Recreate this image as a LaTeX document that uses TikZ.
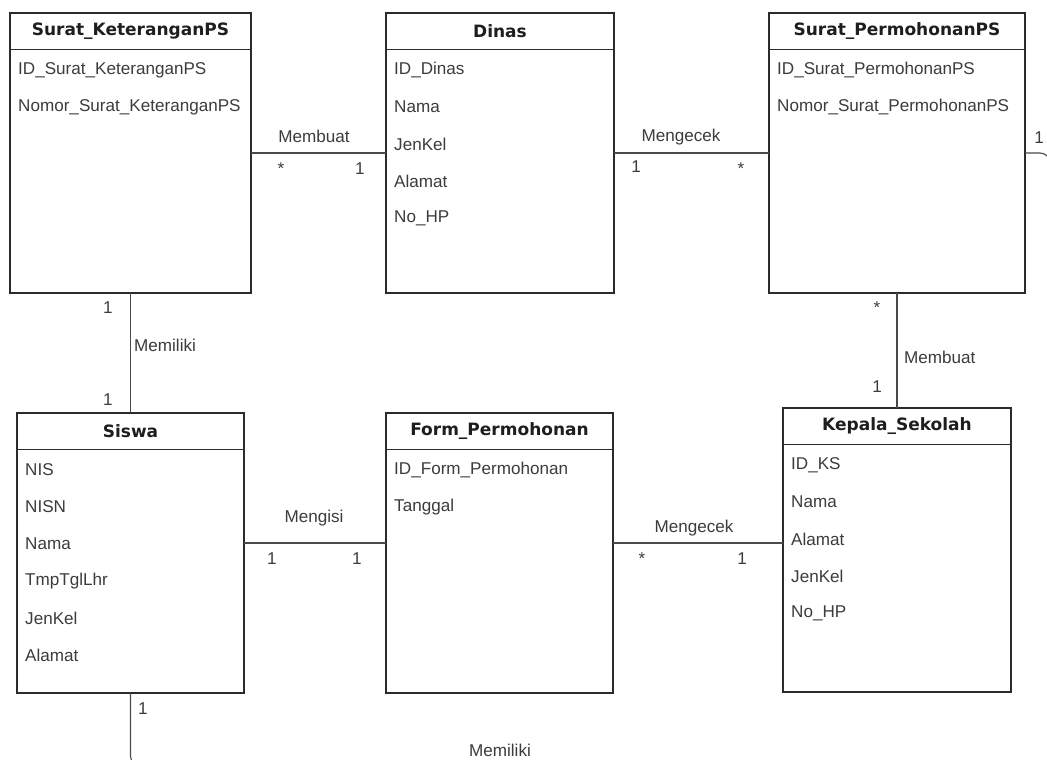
\documentclass[tikz,border=0pt]{standalone}
\usepackage{fontspec}
\setmainfont{Liberation Sans}
\newfontfamily\ttlfont{DejaVu Sans}
\definecolor{boxc}{HTML}{2B2B2B}
\definecolor{linec}{HTML}{4A4A4A}
\definecolor{titlec}{HTML}{1E1E1E}
\definecolor{txtc}{HTML}{3C3C3C}
\tikzset{
  erbox/.style={draw=boxc, line width=1.3pt, inner sep=0pt, outer sep=0pt, anchor=north west},
  sepline/.style={draw=boxc, line width=1.3pt},
  ttl/.style={font=\ttlfont\bfseries\fontsize{17}{20}\selectfont, text=titlec, inner sep=0pt},
  attr/.style={font=\fontsize{17.1}{21}\selectfont, text=txtc, inner sep=0pt, anchor=west},
  lbl/.style={font=\fontsize{17.1}{21}\selectfont, text=txtc, inner sep=0pt, anchor=base},
  lblw/.style={lbl, anchor=base west},
  conn/.style={draw=linec, line width=1.1pt}
}
% entity box: name, x, y, width, height, title, attributes
\newcommand{\erentity}[7]{%
  \node[erbox, minimum width=#4pt, minimum height=#5pt] (#1) at (#2,#3) {};
  \draw[sepline] ([yshift=-36.5pt]#1.north west) -- ([yshift=-36.5pt]#1.north east);
  \node[ttl] (#1-title) at ([yshift=-18pt]#1.north) {#6};
  \foreach \a [count=\i] in {#7} {
    \node[attr] (#1-\i) at ([xshift=8pt, yshift={-(57+37*(\i-1))*1pt}]#1.north west) {\a};
  }
}
\begin{document}
\begin{tikzpicture}[x=1pt, y=-1pt]
\useasboundingbox[fill=white] (0,0) rectangle (1047,760);

% entities
\erentity{sk}{10}{13}{241}{280}{Surat\_KeteranganPS}{ID\_Surat\_KeteranganPS, Nomor\_Surat\_KeteranganPS}
\erentity{dinas}{386}{13}{228}{280}{Dinas}{ID\_Dinas, Nama, JenKel, Alamat, No\_HP}
\erentity{sp}{769}{13}{256}{280}{Surat\_PermohonanPS}{ID\_Surat\_PermohonanPS, Nomor\_Surat\_PermohonanPS}
\erentity{siswa}{17}{413}{227}{280}{Siswa}{NIS, NISN, Nama, TmpTglLhr, JenKel, Alamat}
\erentity{form}{386}{413}{227}{280}{Form\_Permohonan}{ID\_Form\_Permohonan, Tanggal}
\erentity{ks}{783}{408}{228}{284}{Kepala\_Sekolah}{ID\_KS, Nama, Alamat, JenKel, No\_HP}

% relationships
\draw[conn] (sk.east) -- (dinas.west);
\node[lbl] (r1) at (314,142) {Membuat};
\node[lbl] (r1a) at (281,174) {*};
\node[lbl] (r1b) at (360,174) {1};

\draw[conn] (dinas.east) -- (sp.west);
\node[lbl] (r2) at (681,141) {Mengecek};
\node[lbl] (r2a) at (636,172) {1};
\node[lbl] (r2b) at (741,174) {*};

\draw[conn] (sk.south) -- (siswa.north);
\node[lbl] (r3a) at (108,313) {1};
\node[lblw] (r3) at (134,351) {Memiliki};
\node[lbl] (r3b) at (108,405) {1};

\draw[conn] (sp.south) -- (ks.north);
\node[lbl] (r4a) at (877,313) {*};
\node[lblw] (r4) at (904,363) {Membuat};
\node[lbl] (r4b) at (877,392) {1};

\draw[conn] ([yshift=10pt]siswa.east) -- ([yshift=10pt]form.west);
\node[lbl] (r5) at (314,522) {Mengisi};
\node[lbl] (r5a) at (272,564) {1};
\node[lbl] (r5b) at (357,564) {1};

\draw[conn] ([yshift=10pt]form.east) -- ([yshift=10pt]form.east -| ks.west);
\node[lbl] (r6) at (694,532) {Mengecek};
\node[lbl] (r6a) at (642,564) {*};
\node[lbl] (r6b) at (742,564) {1};

% long connector running round the outside of the sheet
\begin{scope}
  \clip (0,0) rectangle (1047,760);
  \draw[conn, rounded corners=10pt] (sp.east) -- (1050,153) -- (1050,766) -- (130.5,766) -- (siswa.south);
\end{scope}
\node[lbl] (r7a) at (1039,143) {1};
\node[lbl] (r7b) at (143,714) {1};
\node[lbl] (r7) at (500,756) {Memiliki};
\end{tikzpicture}
\end{document}
